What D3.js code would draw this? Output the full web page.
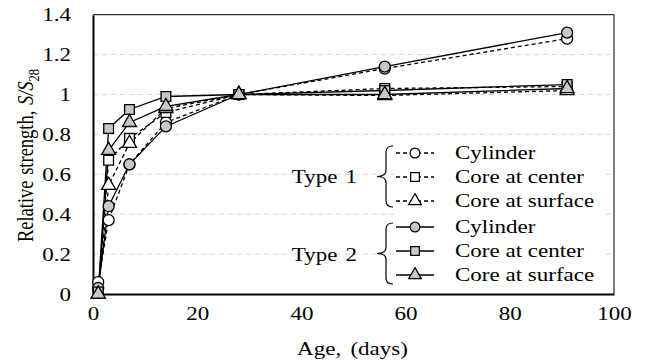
<!DOCTYPE html>
<html>
<head>
<meta charset="utf-8">
<script src="https://cdn.jsdelivr.net/npm/d3@7"></script>
<style>
  body { margin: 0; background: #fff; }
</style>
</head>
<body>
<div id="chart"></div>
<script>
// ages in days
const ages = [1, 3, 7, 14, 28, 56, 91];

// Type 1 (open markers, dashed)
const t1Cylinder = [0.06, 0.37, 0.65, 0.86, 1.0, 1.13, 1.28];
const t1CoreCenter = [0.01, 0.67, 0.78, 0.91, 1.0, 1.03, 1.04];
const t1CoreSurface = [0.0, 0.545, 0.755, 0.93, 1.0, 0.995, 1.02];

// Type 2 (gray markers, solid)
const t2Cylinder = [0.03, 0.44, 0.65, 0.84, 1.0, 1.14, 1.31];
const t2CoreCenter = [0.01, 0.83, 0.925, 0.99, 1.0, 1.02, 1.05];
const t2CoreSurface = [0.0, 0.72, 0.86, 0.94, 1.0, 1.0, 1.03];

const xTicks = [0, 20, 40, 60, 80, 100];
const yTicks = [0, 0.2, 0.4, 0.6, 0.8, 1, 1.2, 1.4];
const legendNames = ['Cylinder', 'Core at center', 'Core at surface'];
const typeNames = ['Type 1', 'Type 2'];

const FONT = 'Liberation Serif';
const FS = 19.5;      // font size
const SX = 1.18;      // the original text is drawn wider than tall

const width = 645, height = 364;
const margin = { top: 14.7, right: 31, bottom: 70, left: 93 };

const svg = d3.select('#chart').append('svg')
  .attr('width', width)
  .attr('height', height)
  .attr('font-family', FONT);

const x = d3.scaleLinear().domain([0, 100]).range([margin.left, width - margin.right]);
const y = d3.scaleLinear().domain([0, 1.4]).range([height - margin.bottom, margin.top]);

const gray = '#c8c8c8';

// stretch a text horizontally around its anchor
function stretch(sel) {
  sel.each(function () {
    const t = d3.select(this);
    const tx = +t.attr('x') || 0, ty = +t.attr('y') || 0;
    t.attr('transform', `translate(${tx},${ty}) scale(${SX},1) translate(${-tx},${-ty})`);
  });
}

// gridlines
svg.append('g')
  .selectAll('line')
  .data(yTicks.filter(d => d > 0 && d < 1.4))
  .enter().append('line')
  .attr('x1', x(0)).attr('x2', x(100))
  .attr('y1', d => y(d)).attr('y2', d => y(d))
  .attr('stroke', '#d9d9d9')
  .attr('stroke-width', 1)
  .attr('stroke-dasharray', '5,4');

// frame: top and right thin
svg.append('line')
  .attr('x1', x(0)).attr('x2', x(100)).attr('y1', y(1.4)).attr('y2', y(1.4))
  .attr('stroke', '#000').attr('stroke-width', 1);
svg.append('line')
  .attr('x1', x(100)).attr('x2', x(100)).attr('y1', y(1.4)).attr('y2', y(0))
  .attr('stroke', '#000').attr('stroke-width', 1);

// axes
const xAxis = svg.append('g')
  .attr('transform', `translate(0,${y(0)})`)
  .call(d3.axisBottom(x).tickValues(xTicks).tickSize(0).tickPadding(12).tickFormat(d3.format('d')));
const yAxis = svg.append('g')
  .attr('transform', `translate(${x(0)},0)`)
  .call(d3.axisLeft(y).tickValues(yTicks).tickSize(0).tickPadding(22).tickFormat(d => String(+d.toFixed(1))));

[xAxis, yAxis].forEach(a => {
  a.attr('font-family', FONT).attr('font-size', FS);
  a.select('.domain').attr('stroke', '#000').attr('stroke-width', 2);
  a.selectAll('text').attr('fill', '#000').call(stretch);
});

// series
const series = [
  { vals: t1Cylinder, shape: 'circle', fill: '#fff', dash: '4,3' },
  { vals: t1CoreCenter, shape: 'square', fill: '#fff', dash: '4,3' },
  { vals: t1CoreSurface, shape: 'triangle', fill: '#fff', dash: '4,3' },
  { vals: t2Cylinder, shape: 'circle', fill: gray, dash: null },
  { vals: t2CoreCenter, shape: 'square', fill: gray, dash: null },
  { vals: t2CoreSurface, shape: 'triangle', fill: gray, dash: null }
];

const symType = { circle: d3.symbolCircle, square: d3.symbolSquare, triangle: d3.symbolTriangle };
const symSize = { circle: 95, square: 95, triangle: 85 };

const line = d3.line().x(d => x(d[0])).y(d => y(d[1]));

series.forEach(s => {
  const pts = ages.map((a, i) => [a, s.vals[i]]);
  svg.append('path')
    .datum(pts)
    .attr('d', line)
    .attr('fill', 'none')
    .attr('stroke', '#000')
    .attr('stroke-width', 1.3)
    .attr('stroke-dasharray', s.dash);
});

series.forEach(s => {
  const pts = ages.map((a, i) => [a, s.vals[i]]);
  svg.append('g').selectAll('path')
    .data(pts)
    .enter().append('path')
    .attr('d', d3.symbol().type(symType[s.shape]).size(symSize[s.shape]))
    .attr('transform', d => `translate(${x(d[0])},${y(d[1])})`)
    .attr('fill', s.fill)
    .attr('stroke', '#000')
    .attr('stroke-width', 1.3);
});

// legend
const legend = svg.append('g');
const rowY = [153, 177, 201, 227, 251, 275];
const sampleX1 = 396, sampleX2 = 434, textX = 455;

legend.append('rect')
  .attr('x', sampleX1 - 2).attr('y', rowY[0] - 12)
  .attr('width', 212).attr('height', rowY[5] - rowY[0] + 24)
  .attr('fill', '#fff');

series.forEach((s, i) => {
  const ry = rowY[i];
  legend.append('line')
    .attr('x1', sampleX1).attr('x2', sampleX2)
    .attr('y1', ry).attr('y2', ry)
    .attr('stroke', '#000').attr('stroke-width', 1.3)
    .attr('stroke-dasharray', s.dash);
  legend.append('path')
    .attr('d', d3.symbol().type(symType[s.shape]).size(s.shape === 'triangle' ? 70 : 75)())
    .attr('transform', `translate(${(sampleX1 + sampleX2) / 2},${ry})`)
    .attr('fill', s.fill)
    .attr('stroke', '#000')
    .attr('stroke-width', 1.2);
  legend.append('text')
    .attr('x', textX).attr('y', ry + 6)
    .attr('font-family', FONT)
    .attr('font-size', FS)
    .text(legendNames[i % 3])
    .call(stretch);
});

// braces
function brace(y0, y1, xl, xr) {
  const ym = (y0 + y1) / 2, xm = (xl + xr) / 2 + 1, r = 6;
  return `M${xr},${y0} Q${xm},${y0} ${xm},${y0 + r} L${xm},${ym - r} Q${xm},${ym} ${xl},${ym}` +
    ` Q${xm},${ym} ${xm},${ym + r} L${xm},${y1 - r} Q${xm},${y1} ${xr},${y1}`;
}
const braces = [
  { y0: 146, y1: 207, ty: 183 },
  { y0: 223, y1: 284, ty: 261 }
];
braces.forEach((g, i) => {
  legend.append('path')
    .attr('d', brace(g.y0, g.y1, 377, 393))
    .attr('fill', 'none')
    .attr('stroke', '#000')
    .attr('stroke-width', 1.2);
  legend.append('text')
    .attr('x', 357).attr('y', g.ty)
    .attr('text-anchor', 'end')
    .attr('font-family', FONT)
    .attr('font-size', FS)
    .attr('word-spacing', 2)
    .text(typeNames[i])
    .call(stretch);
});

// axis titles
svg.append('text')
  .attr('x', (x(0) + x(100)) / 2 - 1).attr('y', 355)
  .attr('text-anchor', 'middle')
  .attr('font-family', FONT)
  .attr('font-size', FS)
  .attr('word-spacing', 3)
  .text('Age, (days)')
  .call(stretch);

const yt = svg.append('text')
  .attr('transform', 'translate(33,155.5) rotate(-90) scale(1,1.22)')
  .attr('text-anchor', 'middle')
  .attr('font-family', FONT)
  .attr('font-size', 18.5)
  .attr('word-spacing', 1);
yt.append('tspan').text('Relative strength, ');
yt.append('tspan').attr('font-style', 'italic').text('S/S');
yt.append('tspan').attr('font-size', 12.5).attr('dy', 4.5).text('28');
</script>
</body>
</html>
